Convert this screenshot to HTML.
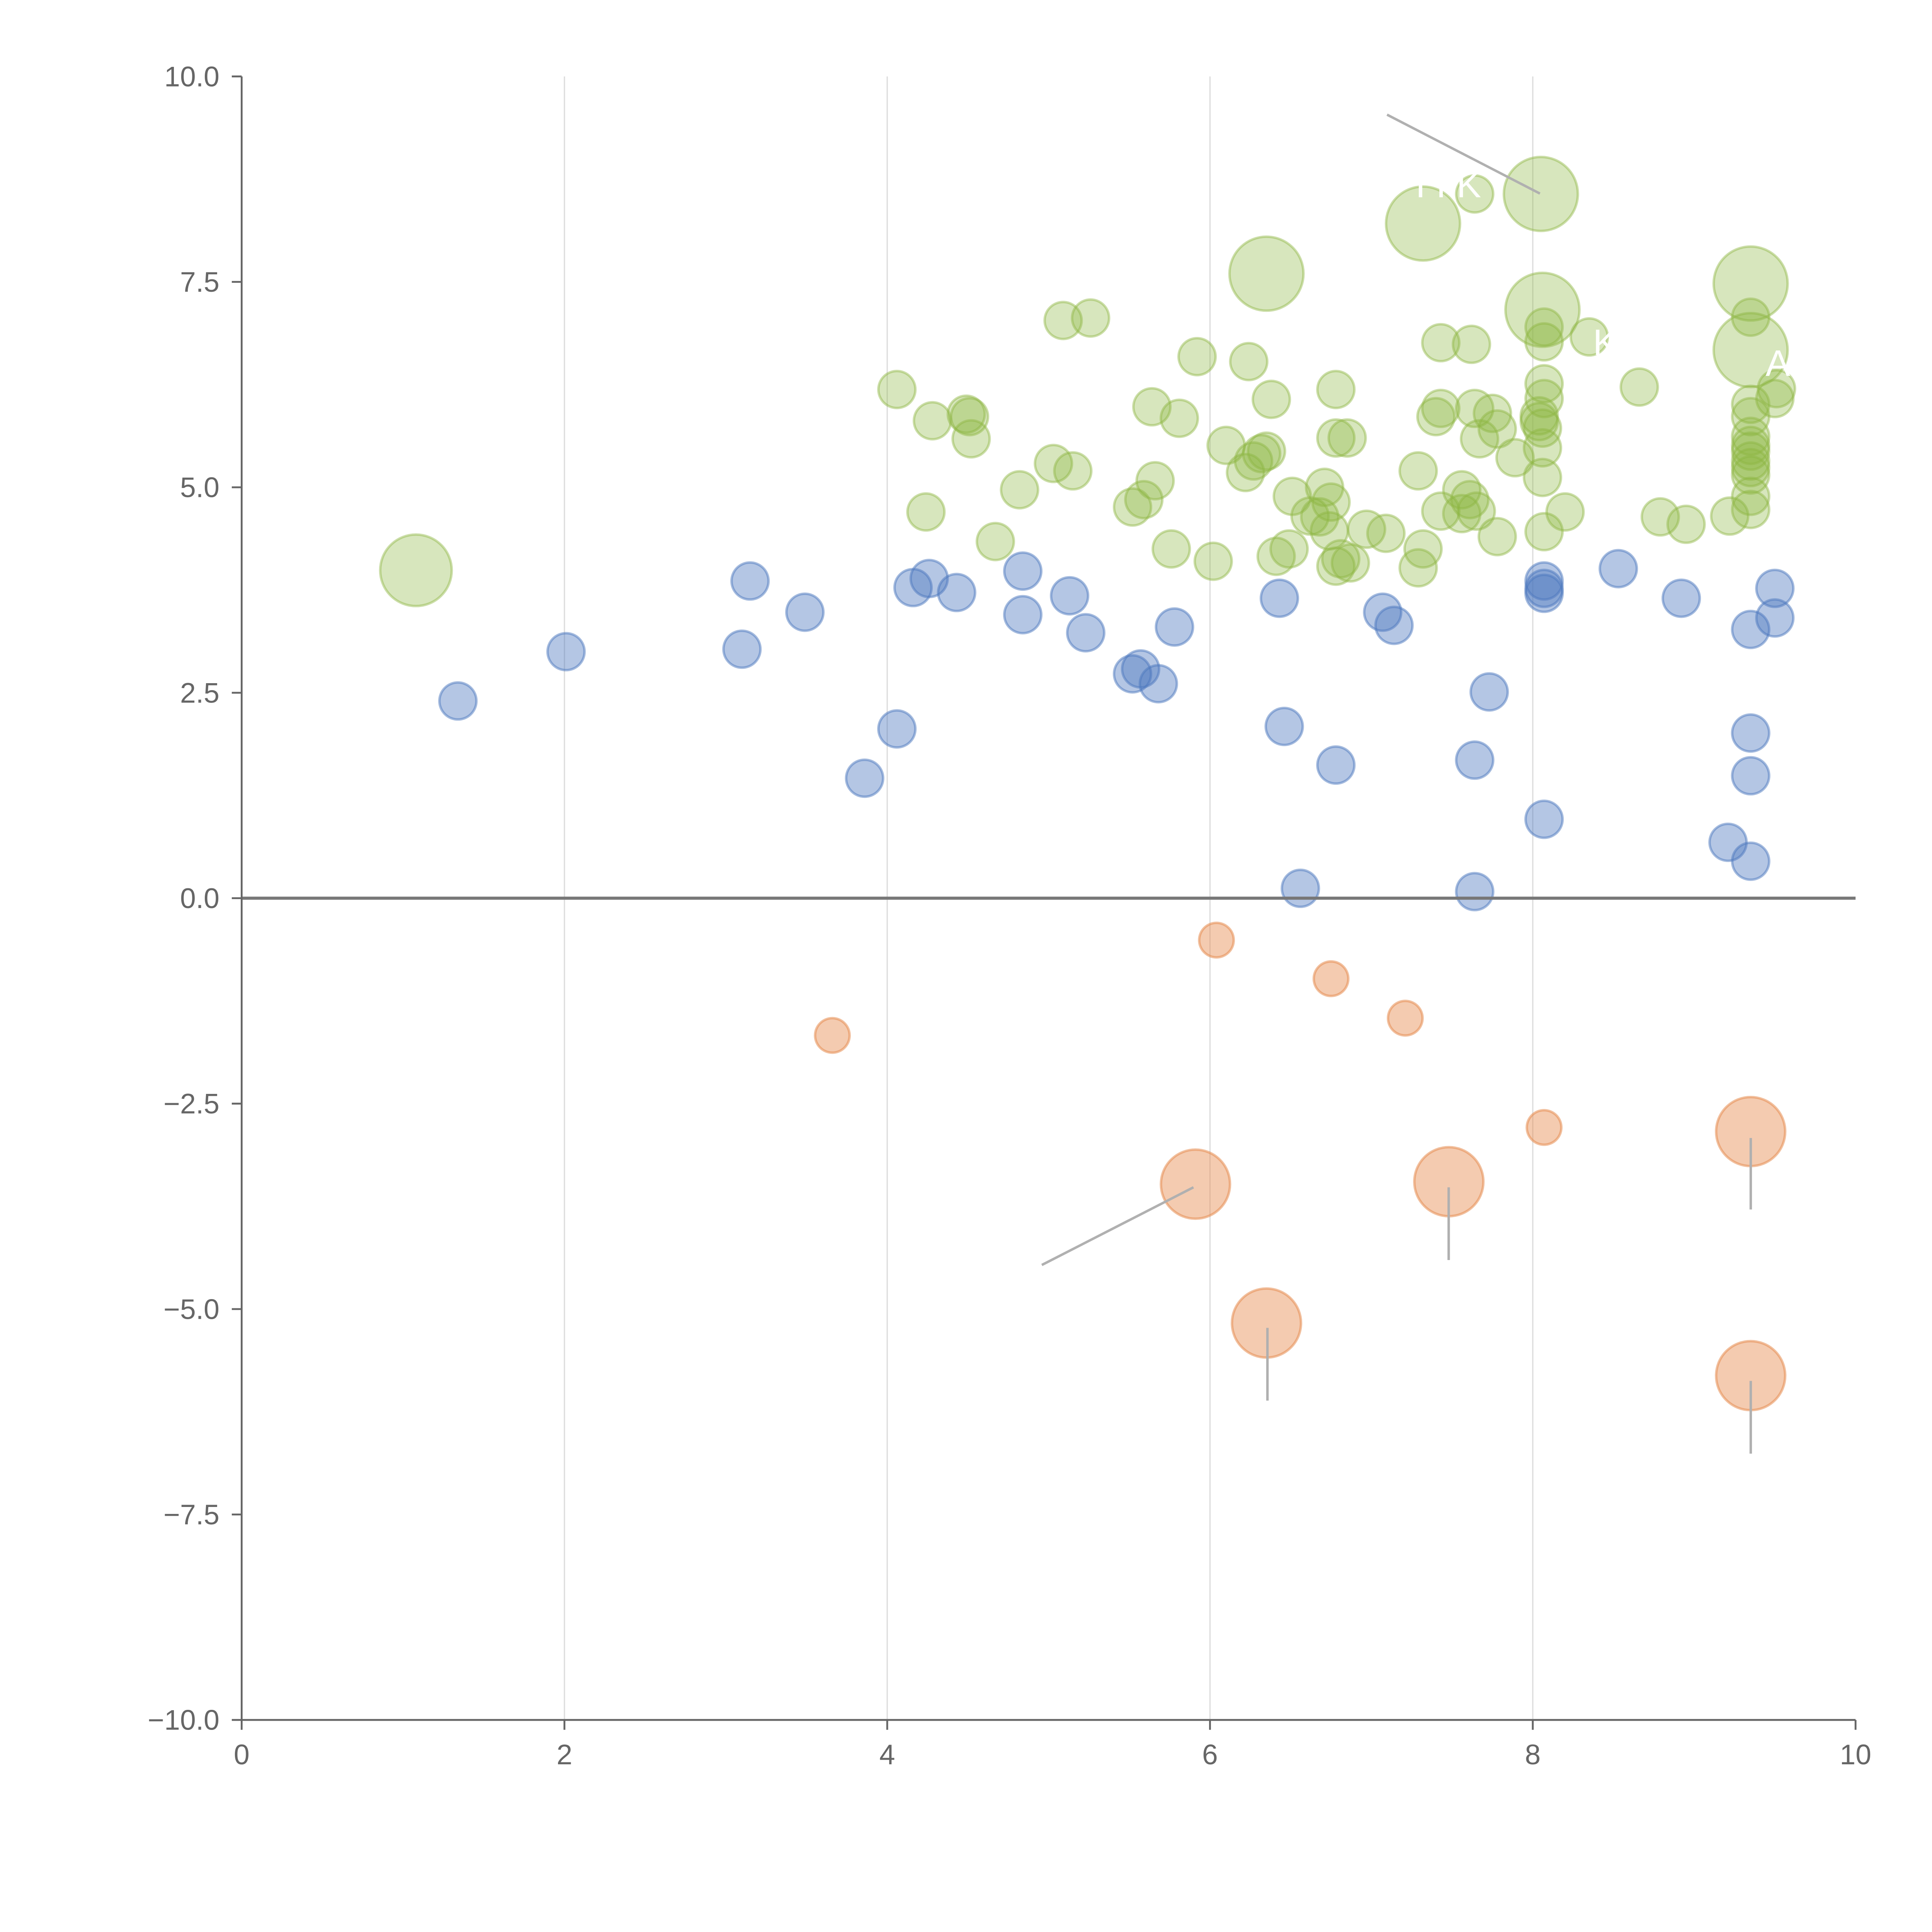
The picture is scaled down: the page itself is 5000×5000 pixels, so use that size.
<!DOCTYPE html>
<html><head><meta charset="utf-8"><style>
html,body{margin:0;padding:0;background:#fff;}
svg{display:block;font-family:"Liberation Sans",sans-serif;}
</style></head><body>
<svg id="chart" width="5000" height="5000" viewBox="0 0 1567 1567" xmlns="http://www.w3.org/2000/svg">
<g id="grid"></g>
<g id="marks"></g>
<g id="annot"></g>
<g id="axes"></g>
</svg>
<script>
const xTicks=[0,2,4,6,8,10];
const yTicks=[10,7.5,5,2.5,0,-2.5,-5,-7.5,-10];
const yTickLabels=["10.0","7.5","5.0","2.5","0.0","\u22122.5","\u22125.0","\u22127.5","\u221210.0"];
const blueX=[1.34,2.01,3.10,3.15,3.49,3.86,4.06,4.16,4.26,4.43,4.84,4.84,5.13,5.23,5.52,5.57,5.68,5.78,6.43,6.46,6.56,6.78,7.07,7.14,7.64,7.64,7.73,8.07,8.07,8.07,8.07,8.53,8.92,9.21,9.35,9.35,9.35,9.35,9.50,9.50];
const blueY=[2.40,3.00,3.03,3.86,3.48,1.46,2.06,3.78,3.89,3.72,3.98,3.45,3.68,3.23,2.73,2.79,2.61,3.30,3.65,2.09,0.12,1.62,3.48,3.32,0.08,1.68,2.51,0.96,3.86,3.77,3.71,4.01,3.65,0.68,0.45,1.49,2.01,3.27,3.77,3.41];
const orangeX=[3.66,6.04,6.75,7.21,8.07,5.91,7.48,9.35,6.35,9.35];
const orangeY=[-1.67,-0.51,-0.98,-1.46,-2.79,-3.48,-3.45,-2.84,-5.17,-5.81];
const orangeS=[1,1,1,1,1,4,4,4,4,4];
const greenX=[1.08,6.35,7.32,8.05,8.06,9.35,9.35,4.06,4.28,4.24,4.49,4.51,4.52,4.67,4.82,5.03,5.09,5.15,5.26,5.52,5.59,5.64,5.66,5.76,5.81,5.92,6.02,6.10,6.22,6.24,6.27,6.32,6.35,6.38,6.41,6.49,6.51,6.62,6.68,6.71,6.74,6.75,6.78,6.78,6.78,6.81,6.85,6.87,6.97,7.09,7.29,7.29,7.32,7.40,7.43,7.43,7.43,7.56,7.56,7.61,7.62,7.64,7.65,7.67,7.75,7.78,7.78,7.89,7.64,8.04,8.04,8.06,8.06,8.06,8.07,8.07,8.07,8.07,8.07,8.20,8.35,8.66,8.79,8.95,9.22,9.35,9.35,9.35,9.35,9.35,9.35,9.35,9.35,9.35,9.35,9.35,9.50,9.51];
const greenY=[3.99,7.60,8.21,8.57,7.16,7.48,6.67,6.19,5.81,4.70,5.89,5.86,5.59,4.34,4.97,5.29,7.03,5.20,7.06,4.76,4.85,5.98,5.08,4.25,5.84,6.59,4.10,5.51,5.18,6.53,5.32,5.41,5.44,6.07,4.16,4.25,4.89,4.65,4.64,5.00,4.47,4.82,6.19,5.60,4.04,4.13,5.60,4.08,4.49,4.44,5.20,4.02,4.25,5.86,5.96,6.76,4.71,4.68,4.97,4.85,6.74,5.96,4.71,5.59,5.90,5.71,4.40,5.36,8.57,5.80,5.87,5.72,5.48,5.12,4.46,6.26,6.95,6.77,6.08,4.70,6.83,6.22,4.64,4.55,4.65,4.73,4.89,5.15,5.32,5.44,5.86,6.01,7.07,5.24,5.51,5.62,6.08,6.20];
const greenBig=7;

const X0=196,X1=1505,Y0=1395,Y1=62;
const sx=v=>X0+(v-0)/10*(X1-X0);
const sy=v=>Y0-(v+10)/20*(Y0-Y1);
const NS="http://www.w3.org/2000/svg";
function mk(tag,attrs,parent){const e=document.createElementNS(NS,tag);for(const k in attrs)e.setAttribute(k,attrs[k]);parent.appendChild(e);return e;}
const grid=document.getElementById('grid'),marks=document.getElementById('marks'),annot=document.getElementById('annot'),axes=document.getElementById('axes');

xTicks.forEach(t=>{if(t>0&&t<10){const l=mk('line',{x1:sx(t),x2:sx(t),y1:Y1,y2:Y0,stroke:'#dcdcdc','stroke-width':1},grid);

}});

function dot(x,y,r,fill,stroke,name){const c=mk('circle',{cx:sx(x),cy:sy(y),r:r,fill:fill,stroke:stroke,'stroke-width':2},marks);

}
greenX.forEach((x,i)=>dot(x,greenY[i],i<greenBig?(i===0?29:30):15,'rgba(141,182,67,0.35)','rgba(141,182,67,0.45)','green-bubble'));
blueX.forEach((x,i)=>dot(x,blueY[i],15,'rgba(76,120,190,0.42)','rgba(76,120,190,0.5)','blue-bubble'));
orangeX.forEach((x,i)=>dot(x,orangeY[i],14*Math.sqrt(orangeS[i]),'rgba(230,140,80,0.45)','rgba(230,140,80,0.55)','orange-bubble'));

[[968,963,845,1026],[1175,963,1175,1022],[1420,923,1420,981],[1028,1077,1028,1136],[1420,1120,1420,1179],[1125,93,1249,157]].forEach(a=>{
const l=mk('line',{x1:a[0],y1:a[1],x2:a[2],y2:a[3],stroke:'#b0b0b0','stroke-width':2},annot);

});
[["K",1292,288],["A",1432,305],["I  I K",1148,160]].forEach(a=>{const t=mk('text',{x:a[1],y:a[2],fill:'#fff','font-size':30},annot);t.textContent=a[0];

});

const zl=mk('line',{x1:X0,x2:X1,y1:sy(0),y2:sy(0),stroke:'#777','stroke-width':2.5},axes);


const ya=mk('line',{x1:X0,x2:X0,y1:Y1,y2:Y0,stroke:'#666','stroke-width':1.5},axes);


const xa=mk('line',{x1:X0,x2:X1,y1:Y0,y2:Y0,stroke:'#666','stroke-width':1.5},axes);


yTicks.forEach((t,i)=>{const y=sy(t);
const tk=mk('line',{x1:X0-8,x2:X0,y1:y,y2:y,stroke:'#666','stroke-width':1.5},axes);


const tx=mk('text',{x:X0-18,y:y+8,'text-anchor':'end','font-size':23,fill:'#666'},axes);tx.textContent=yTickLabels[i];

});
xTicks.forEach(t=>{const x=sx(t);
const tk=mk('line',{x1:x,x2:x,y1:Y0,y2:Y0+8,stroke:'#666','stroke-width':1.5},axes);


const tx=mk('text',{x:x,y:Y0+36,'text-anchor':'middle','font-size':23,fill:'#666'},axes);tx.textContent=String(t);

});
</script>
</body></html>
